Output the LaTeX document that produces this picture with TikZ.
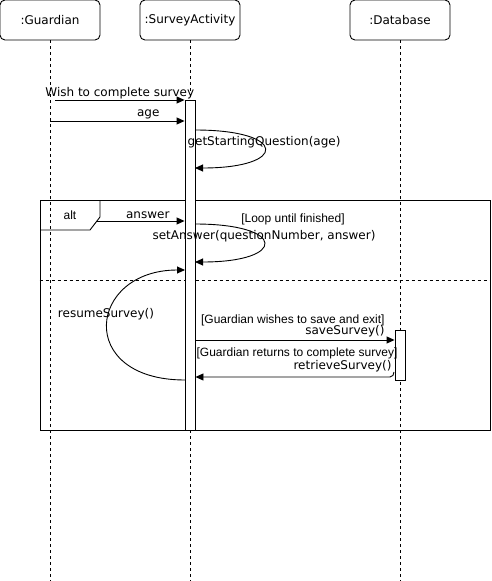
\documentclass[tikz,border=0pt]{standalone}
\usepackage{fontspec}
\setmainfont{DejaVu Sans}
\newfontfamily\guardfont{Liberation Sans}
\usetikzlibrary{arrows.meta}

\begin{document}
\begin{tikzpicture} [x=1pt,y=-1pt,line width=0.9pt,
  actor/.style={draw,rounded corners=5pt,minimum width=100pt,minimum height=40pt,inner sep=0pt,font=\fontsize{12}{14}\selectfont},
  lifeline/.style={line width=0.8pt,dash pattern=on 3pt off 3pt},
  bar/.style={draw,fill=white,minimum width=10pt,inner sep=0pt},
  msg/.style={-{Triangle[length=8pt,width=7pt]}},
  lbl/.style={font=\fontsize{12}{14}\selectfont,inner sep=0pt},
  guard/.style={font=\guardfont\fontsize{12}{14}\selectfont,inner sep=0pt}]
  \useasboundingbox (0,0) rectangle (492,581);
  \path  (50,20)   node[actor](G)  {:Guardian}
          +(140,0)  node[actor](SA) {:SurveyActivity}
          +(350,0)  node[actor](DB) {:Database};
  \path (50,581) coordinate(Gend) (190,581) coordinate(SAend) (400,581) coordinate(DBend);
    \draw [lifeline] (G) -- (Gend);
    \draw [lifeline] (SA) -- (SAend);
    \draw [lifeline] (DB) -- (DBend);
  % alt frame
  \node[draw,minimum width=450pt,minimum height=230pt,inner sep=0pt] (alt) at (265,315) {};
  \draw (40,230) -- (90,230) -- (100,217) -- (100,200);
  \path (70,215) node[guard](altL){alt};
  \draw [lifeline] (alt.west |- 0,280) -- (alt.east |- 0,280);
  % activations
  \path (190,265) node[bar,minimum height=330pt](act){}
        (400,355) node[bar,minimum height=50pt](dbact){};
  % messages
  \path (55,100) coordinate(wish) (50,121) coordinate(ageG) (97,221) coordinate(ans);
  \draw [msg] (wish) to node [pos=0.5,above=1pt,lbl]{Wish to complete survey} (wish -| act.west);
  \draw [msg] (ageG) to node [pos=0.73,above=2pt,lbl]{age} (ageG -| act.west);
  \path (195,130) coordinate(gsqA) (195,168) coordinate(gsqB);
  \draw [msg] (gsqA) .. controls (288,130) and (288,168) .. (gsqB);
  \node [lbl] (gsqL) at (264,142) {getStartingQuestion(age)};
  \draw [msg] (ans) to node [pos=0.58,above=2pt,lbl]{answer} (ans -| act.west);
  \path (195,224) coordinate(setA) (195,262) coordinate(setB);
  \draw [msg] (setA) .. controls (287,224) and (287,262) .. (setB);
  \node [guard] (loopL) at (293,219) {[Loop until finished]};
  \node [lbl] (setL) at (264,236) {setAnswer(questionNumber, answer)};
  \path (185,380) coordinate(resA) (185,270) coordinate(resB);
  \draw [msg] (resA) .. controls (75,380) and (88,270) .. (resB);
  \node [lbl] (resL) at (106,314) {resumeSurvey()};
  \path (act.east |- 0,340) coordinate(saveA) (394,372) coordinate(retA);
  \draw [msg] (saveA) to (saveA -| dbact.west);
  \node [guard,anchor=east] (saveG) at (385,320) {[Guardian wishes to save and exit]};
  \node [lbl,anchor=east] (saveL) at (385,331) {saveSurvey()};
  \draw [msg] (retA) to[out=-90,in=0] ++(-4,5) -- (act.east |- 0,377);
  \node [guard] (retG) at (297,353) {[Guardian returns to complete survey]};
  \node [lbl,anchor=east] (retL) at (392,366) {retrieveSurvey()};
\end{tikzpicture}
\end{document}
